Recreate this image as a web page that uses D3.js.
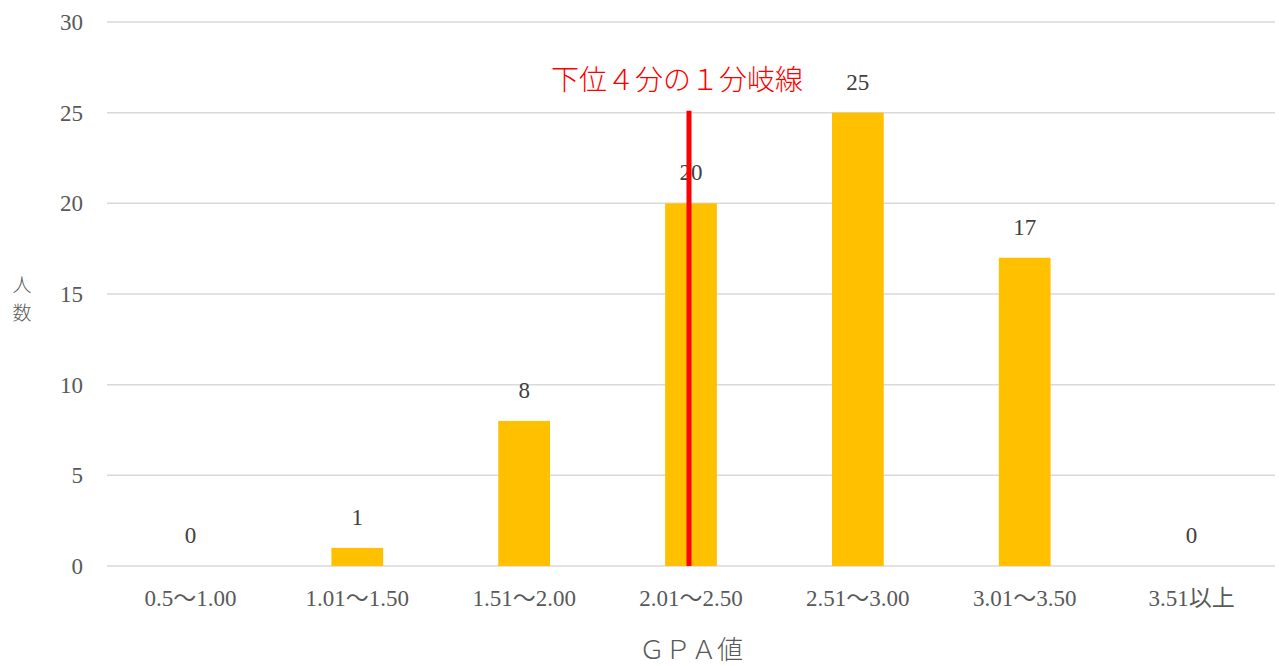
<!DOCTYPE html>
<html>
<head>
<meta charset="utf-8">
<script src="https://cdn.jsdelivr.net/npm/d3@7"></script>
<style>
  html, body { margin: 0; padding: 0; background: #fff; }
  svg text { font-family: "Liberation Serif", "DejaVu Serif", "Noto Sans CJK JP", serif; }
</style>
</head>
<body>
<svg id="chart" width="1279" height="666"></svg>
<script>
// GPA distribution
const categories = ["0.5～1.00", "1.01～1.50", "1.51～2.00", "2.01～2.50", "2.51～3.00", "3.01～3.50", "3.51以上"];
const counts = [0, 1, 8, 20, 25, 17, 0];
const yTicks = [0, 5, 10, 15, 20, 25, 30];
const quartileLabel = "下位４分の１分岐線";
const quartileCategory = "2.01～2.50";
const quartileTop = 25;
const yTitleChars = ["人", "数"];

const svg = d3.select("#chart");
const margin = { left: 107, right: 4, top: 22, bottom: 100 };
const W = 1279, H = 666;

const x = d3.scaleBand()
  .domain(categories)
  .range([margin.left, W - margin.right])
  .paddingInner(0.69)
  .paddingOuter(0.345);

const y = d3.scaleLinear()
  .domain([0, 30])
  .range([H - margin.bottom, margin.top]);

const textColor = "#595959";

// gridlines
svg.append("g")
  .selectAll("line")
  .data(yTicks)
  .join("line")
  .attr("x1", margin.left)
  .attr("x2", W - margin.right)
  .attr("y1", d => y(d))
  .attr("y2", d => y(d))
  .attr("stroke", "#d9d9d9")
  .attr("stroke-width", 1.5);

// y axis labels
const yAxis = d3.axisLeft(y).tickValues(yTicks).tickSize(0).tickPadding(24);
const gy = svg.append("g").attr("transform", `translate(${margin.left},0)`).call(yAxis);
gy.select(".domain").remove();
gy.selectAll("text").attr("font-size", 23).attr("fill", textColor)
  .style("font-family", '"Liberation Serif", "DejaVu Serif", serif');

// x axis labels
const xAxis = d3.axisBottom(x).tickSize(0).tickPadding(24);
const gx = svg.append("g").attr("transform", `translate(0,${y(0)})`).call(xAxis);
gx.select(".domain").remove();
gx.selectAll("text").attr("font-size", 23).attr("fill", textColor)
  .style("font-family", '"Liberation Serif", "DejaVu Serif", "Noto Sans CJK JP", serif');

// bars
svg.append("g")
  .selectAll("rect")
  .data(categories)
  .join("rect")
  .attr("x", d => x(d))
  .attr("width", x.bandwidth())
  .attr("y", (d, i) => y(counts[i]))
  .attr("height", (d, i) => y(0) - y(counts[i]))
  .attr("fill", "#ffc000");

// value labels
svg.append("g")
  .selectAll("text")
  .data(categories)
  .join("text")
  .attr("x", d => x(d) + x.bandwidth() / 2)
  .attr("y", (d, i) => y(counts[i]) - 23)
  .attr("text-anchor", "middle")
  .attr("font-size", 23)
  .attr("fill", "#404040")
  .text((d, i) => counts[i]);

// quartile boundary line
const qx = x(quartileCategory) + x.bandwidth() / 2 - 2;
svg.append("line")
  .attr("x1", qx).attr("x2", qx)
  .attr("y1", y(quartileTop) - 2)
  .attr("y2", y(0))
  .attr("stroke", "#ff0000")
  .attr("stroke-width", 5);

svg.append("text")
  .attr("x", qx - 12)
  .attr("y", 90)
  .attr("text-anchor", "middle")
  .attr("font-size", 28)
  .attr("fill", "#ff0000")
  .style("font-family", '"Noto Sans CJK JP", sans-serif')
  .style("font-weight", 300)
  .text(quartileLabel);

// vertical y-axis title, one character per line
svg.append("g")
  .selectAll("text")
  .data(yTitleChars)
  .join("text")
  .attr("x", 22)
  .attr("y", (d, i) => 292 + i * 28)
  .attr("text-anchor", "middle")
  .attr("font-size", 19)
  .attr("fill", textColor)
  .style("font-family", '"Noto Sans CJK JP", sans-serif')
  .style("font-weight", 300)
  .text(d => d);

svg.append("text")
  .attr("x", (margin.left + W - margin.right) / 2)
  .attr("y", 659)
  .attr("text-anchor", "middle")
  .attr("font-size", 26)
  .attr("fill", textColor)
  .style("font-family", '"Noto Sans CJK JP", sans-serif')
  .style("font-weight", 300)
  .text("ＧＰＡ値");
</script>
</body>
</html>
